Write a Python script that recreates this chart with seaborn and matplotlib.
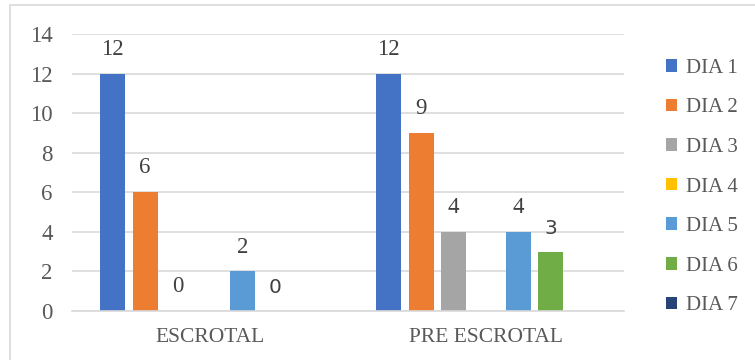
import numpy as np
import pandas as pd
import matplotlib
matplotlib.use("Agg")
import matplotlib.pyplot as plt
from matplotlib.patches import Patch, Rectangle
import seaborn as sns

# Cases per day, by category
categories = ["ESCROTAL", "PRE ESCROTAL"]
days = ["DIA 1", "DIA 2", "DIA 3", "DIA 4", "DIA 5", "DIA 6", "DIA 7"]
escrotal = [12, 6, 0, np.nan, 2, 0, np.nan]
pre_escrotal = [12, 9, 4, np.nan, 4, 3, np.nan]
colors = ["#4472C4", "#ED7D31", "#A5A5A5", "#FFC000", "#5B9BD5", "#70AD47", "#264478"]
y_ticks = [0, 2, 4, 6, 8, 10, 12, 14]

rows = []
for cat, vals in zip(categories, [escrotal, pre_escrotal]):
    for d, v in zip(days, vals):
        rows.append({"categoria": cat, "dia": d, "valor": v})
df = pd.DataFrame(rows)

sns.set_theme(style="white")
plt.rcParams["font.family"] = ["Liberation Serif", "DejaVu Serif"]

W, H = 755, 360
fig = plt.figure(figsize=(W / 100, H / 100), dpi=100)
ax = fig.add_axes([72 / W, 1 - 311 / H, (624 - 72) / W, (311 - 34) / H])

palette = dict(zip(days, colors))
sns.barplot(data=df, x="categoria", y="valor", hue="dia", order=categories,
            hue_order=days, palette=palette, width=0.823, gap=0.23,
            errorbar=None, saturation=1, legend=False, linewidth=0, ax=ax)

ax.set_ylim(0, 14)
ax.set_yticks(y_ticks)
ax.set_xlim(-0.5, 1.5)
ax.grid(axis="y", color="#D9D9D9", linewidth=1.2)
ax.set_axisbelow(True)
for s in ["top", "right", "left"]:
    ax.spines[s].set_visible(False)
ax.spines["bottom"].set_color("#D9D9D9")
ax.spines["bottom"].set_linewidth(1.2)
ax.tick_params(axis="both", length=0, colors="#595959")
ax.tick_params(axis="y", pad=14, labelsize=16.5)
ax.tick_params(axis="x", pad=12, labelsize=15.5)
ax.set_xlabel("")
ax.set_ylabel("")

# Value labels above the drawn bars
for cont in ax.containers:
    color = cont.patches[0].get_facecolor() if len(cont.patches) else None
    is_d6 = color is not None and matplotlib.colors.to_hex(color).upper() == "#70AD47"
    fam = ["DejaVu Sans"] if is_d6 else ["Liberation Serif"]
    ax.bar_label(cont, fmt="{:g}", padding=10, fontsize=16.5 if not is_d6 else 14.5,
                 color="#404040", fontfamily=fam)

handles = [Patch(facecolor=c, edgecolor="none") for c in colors]
fig.legend(handles, days, loc="center left", bbox_to_anchor=(647 / W, 1 - 187 / H),
           frameon=False, fontsize=15, handlelength=0.55, handleheight=0.55,
           handletextpad=0.4, labelspacing=0.99, labelcolor="#595959")

fig.patches.append(Rectangle((10 / W, -0.05), 1.1, 1 - 5 / H + 0.05,
                             transform=fig.transFigure, fill=False,
                             edgecolor="#D9D9D9", linewidth=1.2))

fig.savefig("out.png", dpi=100)
